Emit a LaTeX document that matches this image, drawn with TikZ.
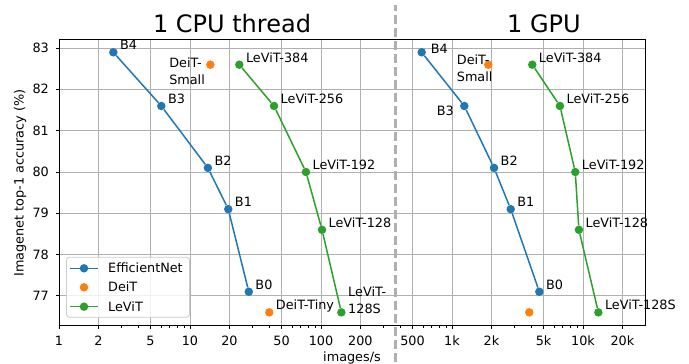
\documentclass[tikz,border=0pt]{standalone}
\usepackage{fontspec}
\setmainfont{DejaVu Sans}
\definecolor{effblue}{HTML}{1F77B4}
\definecolor{deitorange}{HTML}{FF7F0E}
\definecolor{levitgreen}{HTML}{2CA02C}
\definecolor{gridgray}{HTML}{B0B0B0}
\definecolor{framegray}{HTML}{CCCCCC}

\begin{document}
\begin{tikzpicture}[x=131pt, y=41.28pt, font=\fontsize{12.8}{17}\selectfont,
    dot/.style = {circle, fill=#1, inner sep=0pt, minimum size=8.5pt},
    curve/.style = {#1, line width=1.5pt},
    lgtext/.style = {anchor=west, inner sep=0pt, text height=9pt, text depth=0pt},
    lbl/.style = {lgtext, xshift=6.5pt, yshift=7pt},
    lbltwo/.style = {inner sep=0pt, align=left},
    gridline/.style = {gridgray, line width=0.9pt},
    spine/.style = {black, line width=1pt},
    ticklbl/.style = {inner sep=0pt, text height=9pt, text depth=0pt},
    legendbox/.style = {draw=framegray, fill=white, fill opacity=0.8, rounded corners=3pt, line width=0.9pt},
    sep/.style = {gridgray, line width=2.5pt, dash pattern=on 9pt off 4pt}]
    \useasboundingbox (-59pt,-38pt) rectangle (630pt,326pt);
    \begin{scope}[shift={(0,-76.27)}]
    \coordinate (axorig) at (0,76.27);
    % grid and x ticks (mantissa/exponent/label)
    \foreach \m/\e/\t in {1/0/1,2/0/2,5/0/5,1/1/10,2/1/20,5/1/50,1/2/100,2/2/200,5/2/500,1/3/1k,2/3/2k,5/3/5k,1/4/10k,2/4/20k} {
        \draw[gridline] ({\e+log10(\m)},76.27) -- ({\e+log10(\m)},83.2);
        \draw[spine] ({\e+log10(\m)},76.27) -- ++(0,-3.5pt);
        \node[ticklbl, anchor=north] (xt\m e\e) at ({\e+log10(\m)},76.27) [yshift=-10.5pt] {\t};
    }
    \foreach \e in {0,...,3}
        \foreach \m in {3,4,6,7,8,9}
            \draw[spine, line width=0.7pt] ({\e+log10(\m)},76.27) -- ++(0,-2pt);
    \foreach \a in {77,...,83} {
        \draw[gridline] (0,\a) -- (4.4733,\a);
        \draw[spine] (0,\a) -- ++(-3.5pt,0);
        \node[ticklbl, anchor=east] (yt\a) at (0,\a) [xshift=-10pt] {\a};
    }
    \draw[spine] (0,76.27) rectangle (4.4733,83.2);

    % EfficientNet
    \node[dot=effblue] (e4c) at ({log10(2.6)},82.9) {};
    \node[dot=effblue] (e3c) at ({log10(6.04)},81.6) {};
    \node[dot=effblue] (e2c) at ({log10(13.7)},80.1) {};
    \node[dot=effblue] (e1c) at ({log10(19.6)},79.1) {};
    \node[dot=effblue] (e0c) at ({log10(28.1)},77.1) {};
    \node[dot=effblue] (e4g) at ({log10(587)},82.9) {};
    \node[dot=effblue] (e3g) at ({log10(1242)},81.6) {};
    \node[dot=effblue] (e2g) at ({log10(2093)},80.1) {};
    \node[dot=effblue] (e1g) at ({log10(2807)},79.1) {};
    \node[dot=effblue] (e0g) at ({log10(4642)},77.1) {};
    \draw[curve=effblue] (e4c) -- (e3c) -- (e2c) -- (e1c) -- (e0c);
    \draw[curve=effblue] (e4g) -- (e3g) -- (e2g) -- (e1g) -- (e0g);

    % DeiT
    \node[dot=deitorange] (dsc) at ({log10(14.3)},82.6) {};
    \node[dot=deitorange] (dtc) at ({log10(40.3)},76.6) {};
    \node[dot=deitorange] (dsg) at ({log10(1893)},82.6) {};
    \node[dot=deitorange] (dtg) at ({log10(3891)},76.6) {};

    % LeViT
    \node[dot=levitgreen] (l384c) at ({log10(23.8)},82.6) {};
    \node[dot=levitgreen] (l256c) at ({log10(43.8)},81.6) {};
    \node[dot=levitgreen] (l192c) at ({log10(76.8)},80.0) {};
    \node[dot=levitgreen] (l128c) at ({log10(101.8)},78.6) {};
    \node[dot=levitgreen] (l128sc) at ({log10(143)},76.6) {};
    \node[dot=levitgreen] (l384g) at ({log10(4100)},82.6) {};
    \node[dot=levitgreen] (l256g) at ({log10(6670)},81.6) {};
    \node[dot=levitgreen] (l192g) at ({log10(8730)},80.0) {};
    \node[dot=levitgreen] (l128g) at ({log10(9310)},78.6) {};
    \node[dot=levitgreen] (l128sg) at ({log10(13100)},76.6) {};
    \draw[curve=levitgreen] (l384c) -- (l256c) -- (l192c) -- (l128c) -- (l128sc);
    \draw[curve=levitgreen] (l384g) -- (l256g) -- (l192g) -- (l128g) -- (l128sg);

    % labels, CPU side
    \node[lbl] (e4cl) at (e4c) {B4};
    \node[lbl] (e3cl) at (e3c) {B3};
    \node[lbl] (e2cl) at (e2c) {B2};
    \node[lbl] (e1cl) at (e1c) {B1};
    \node[lbl] (e0cl) at (e0c) {B0};
    \node[lbltwo, anchor=east, xshift=-5.3pt, yshift=-6.2pt] (dscl) at (dsc) {DeiT-\\Small};
    \node[lbl] (dtcl) at (dtc) {DeiT-Tiny};
    \node[lbl] (l384cl) at (l384c) {LeViT-384};
    \node[lbl] (l256cl) at (l256c) {LeViT-256};
    \node[lbl] (l192cl) at (l192c) {LeViT-192};
    \node[lbl] (l128cl) at (l128c) {LeViT-128};
    \node[lbltwo, anchor=west, xshift=6.7pt, yshift=12pt] (l128scl) at (l128sc) {LeViT-\\128S};
    % labels, GPU side
    \node[lgtext, xshift=9pt, yshift=3.5pt] (e4gl) at (e4g) {B4};
    \node[lgtext, anchor=east, xshift=-10.3pt, yshift=-5.4pt] (e3gl) at (e3g) {B3};
    \node[lbl] (e2gl) at (e2g) {B2};
    \node[lbl] (e1gl) at (e1g) {B1};
    \node[lbl] (e0gl) at (e0g) {B0};
    \node[lbltwo, anchor=west, xshift=-31.6pt, yshift=-3.9pt] (dsgl) at (dsg) {DeiT-\\Small};
    \node[lbl] (l384gl) at (l384g) {LeViT-384};
    \node[lbl] (l256gl) at (l256g) {LeViT-256};
    \node[lbl] (l192gl) at (l192g) {LeViT-192};
    \node[lbl] (l128gl) at (l128g) {LeViT-128};
    \node[lbl] (l128sgl) at (l128sg) {LeViT-128S};

    % legend
    \node[legendbox, minimum width=123pt, minimum height=60pt, anchor=south west] (legend) at ([shift={(7pt,8.3pt)}]axorig) {};
    \node[dot=effblue] (lgeff) at ([shift={(18pt,49.4pt)}]legend.south west) {};
    \node[dot=deitorange] (lgdeit) at ([shift={(18pt,30.4pt)}]legend.south west) {};
    \node[dot=levitgreen] (lglevit) at ([shift={(18pt,11pt)}]legend.south west) {};
    \draw[curve=effblue] ([xshift=-14pt]lgeff.center) -- ([xshift=14pt]lgeff.center);
    \draw[curve=levitgreen] ([xshift=-14pt]lglevit.center) -- ([xshift=14pt]lglevit.center);
    \node[lgtext] (lgefft) at ([xshift=24pt]lgeff.center) {EfficientNet};
    \node[lgtext] (lgdeitt) at ([xshift=24pt]lgdeit.center) {DeiT};
    \node[lgtext] (lglevitt) at ([xshift=24pt]lglevit.center) {LeViT};

    % titles and axis labels
    \node[font=\fontsize{24}{28}\selectfont] (cputitle) at (1.3206,83.586) {1 CPU thread};
    \node[font=\fontsize{24}{28}\selectfont] (gputitle) at (3.702,83.586) {1 GPU};
    \node[rotate=90] (ylab) at ([shift={(-39pt,143pt)}]axorig) {Imagenet top-1 accuracy (\%)};
    \node[anchor=base] (xlab) at ([shift={(293pt,-36pt)}]axorig) {images/s};

    % separator
    \draw[sep] (2.569,75.40) -- (2.569,84.05);
    \end{scope}
\end{tikzpicture}
\end{document}
